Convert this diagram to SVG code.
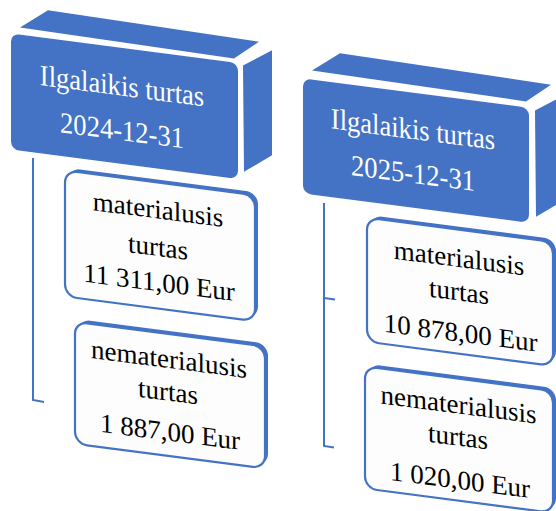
<svg xmlns="http://www.w3.org/2000/svg" width="556" height="511" viewBox="0 0 556 511">
<style>
.face{fill:#4472C4}
.cardback{fill:#4472C4}
.card{fill:#FDFDFD;stroke:#4472C4;stroke-width:2.2}
.conn{fill:none;stroke:#4472C4;stroke-width:2}
.ht{font-family:"Liberation Serif","Times New Roman",serif;font-size:29.5px;fill:#FFFFFF;text-anchor:middle}
.ct{font-family:"Liberation Serif","Times New Roman",serif;font-size:27px;fill:#000000;text-anchor:middle}
</style>
<rect width="556" height="511" fill="#FFFFFF"/>
<g id="connectors">
<polyline class="conn" points="33,158 33,400 44,402"/>
<polyline class="conn" points="324,203 324,446 334,447.5"/>
<line class="conn" x1="324" y1="298" x2="335" y2="299.5"/>
</g>
<g id="header-2024">
<g transform="matrix(1,0.13,0,1,0,0)">
<polygon class="face" points="20,25 234,28 259,8 48,4"/>
<polygon class="face" points="243,34 272,15 272,120 244,140"/>
<rect class="face" x="11" y="32" width="227" height="116" rx="8"/>
</g>
<text class="ht" transform="matrix(0.9,0.117,0,1,122,95.7)">Ilgalaikis turtas</text>
<text class="ht" transform="matrix(0.9,0.117,0,1,122,140.2)">2024-12-31</text>
</g>
<g id="header-2025">
<g transform="matrix(1,0.13,0,1,0,0)">
<polygon class="face" points="312,30 526,33 551,13 340,9"/>
<polygon class="face" points="535,41 564,22 564,127 536,147"/>
<rect class="face" x="303" y="39" width="226" height="115" rx="8"/>
</g>
<text class="ht" transform="matrix(0.9,0.117,0,1,413,139)">Ilgalaikis turtas</text>
<text class="ht" transform="matrix(0.9,0.117,0,1,413,183)">2025-12-31</text>
</g>
<g id="material-2024">
<g transform="matrix(1,0.13,0,1,0,0)">
<rect class="cardback" x="68" y="159" width="190" height="126" rx="12"/>
<rect class="card" x="65" y="162" width="190" height="126" rx="12"/>
</g>
<text class="ct" transform="matrix(1,0.128,0,1,158,218.5)">materialusis</text>
<text class="ct" transform="matrix(1,0.128,0,1,158,256)">turtas</text>
<text class="ct" transform="matrix(1,0.128,0,1,159,291.3)">11 311,00 Eur</text>
</g>
<g id="nonmaterial-2024">
<g transform="matrix(1,0.13,0,1,0,0)">
<rect class="cardback" x="78" y="309" width="190" height="122" rx="12"/>
<rect class="card" x="75" y="312" width="190" height="122" rx="12"/>
</g>
<text class="ct" transform="matrix(1,0.128,0,1,169,368)">nematerialusis</text>
<text class="ct" transform="matrix(1,0.128,0,1,168,400.6)">turtas</text>
<text class="ct" transform="matrix(1,0.128,0,1,170,440.8)">1 887,00 Eur</text>
</g>
<g id="material-2025">
<g transform="matrix(1,0.13,0,1,0,0)">
<rect class="cardback" x="370" y="167" width="186" height="124" rx="12"/>
<rect class="card" x="367" y="170" width="186" height="124" rx="12"/>
</g>
<text class="ct" transform="matrix(1,0.128,0,1,459,267)">materialusis</text>
<text class="ct" transform="matrix(1,0.128,0,1,459,300.5)">turtas</text>
<text class="ct" transform="matrix(1,0.128,0,1,460.5,341.7)">10 878,00 Eur</text>
</g>
<g id="nonmaterial-2025">
<g transform="matrix(1,0.13,0,1,0,0)">
<rect class="cardback" x="368" y="316" width="188" height="122" rx="12"/>
<rect class="card" x="365" y="319" width="188" height="122" rx="12"/>
</g>
<text class="ct" transform="matrix(1,0.128,0,1,458.5,413.5)">nematerialusis</text>
<text class="ct" transform="matrix(1,0.128,0,1,458,445.6)">turtas</text>
<text class="ct" transform="matrix(1,0.128,0,1,460,489)">1 020,00 Eur</text>
</g>
</svg>
